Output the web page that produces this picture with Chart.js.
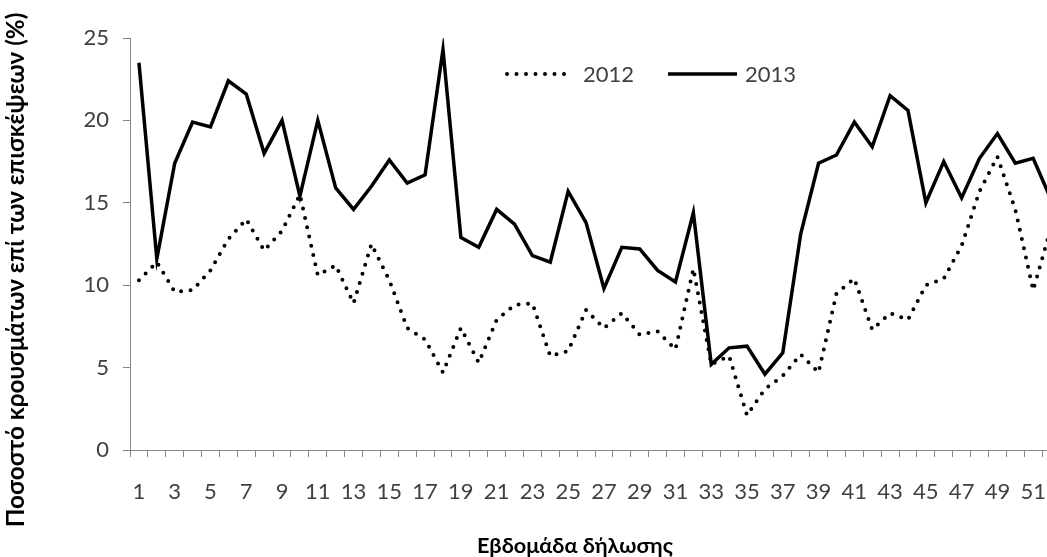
<!DOCTYPE html>
<html>
<head>
<meta charset="utf-8">
<script src="https://cdn.jsdelivr.net/npm/chart.js@4"></script>
<style>
html,body{margin:0;padding:0;background:#fff;overflow:hidden}
#wrap{width:1047px;height:557px;overflow:hidden;position:relative;background:#fff}
canvas{display:block}
</style>
</head>
<body>
<div id="wrap"><canvas id="c" width="1060" height="557"></canvas></div>
<script>
const weeks = ['1','2','3','4','5','6','7','8','9','10','11','12','13','14','15','16','17','18','19','20','21','22','23','24','25','26','27','28','29','30','31','32','33','34','35','36','37','38','39','40','41','42','43','44','45','46','47','48','49','50','51','52'];
const shownWeekLabels = ['1','3','5','7','9','11','13','15','17','19','21','23','25','27','29','31','33','35','37','39','41','43','45','47','49','51'];
const yTicks = [0,5,10,15,20,25];
const seriesNames = ['2012','2013'];
const series2012 = [10.3,11.4,9.6,9.7,10.9,12.8,14.0,12.1,13.3,15.5,10.6,11.2,8.9,12.5,10.3,7.4,6.7,4.7,7.4,5.3,7.9,8.8,8.9,5.7,6.0,8.5,7.4,8.3,7.0,7.2,6.1,11.0,5.2,5.7,2.1,3.7,4.5,5.8,4.7,9.5,10.4,7.3,8.3,7.9,10.0,10.4,12.4,15.7,17.8,14.6,9.7,13.5];
const series2013 = [23.5,11.6,17.4,19.9,19.6,22.4,21.6,18.0,20.0,15.4,20.0,15.9,14.6,16.0,17.6,16.2,16.7,24.3,12.9,12.3,14.6,13.7,11.8,11.4,15.7,13.8,9.8,12.3,12.2,10.9,10.2,14.4,5.2,6.2,6.3,4.6,5.9,13.1,17.4,17.9,19.9,18.4,21.5,20.6,15.0,17.5,15.3,17.7,19.2,17.4,17.7,15.2];
const yTitle = 'Ποσοστό κρουσμάτων επί των επισκέψεων (%)';
const xTitle = 'Εβδομάδα δήλωσης';

const FONT = "Lato, 'Open Sans', sans-serif";
const TXT = '#404040';
const AXIS = '#868686';

function fitFont(ctx, text, target, base, weight){
  ctx.font = `${weight} ${base}px ${FONT}`;
  const w = ctx.measureText(text).width;
  return base * target / w;
}

const overlay = {
  id: 'overlay',
  afterDraw(chart){
    const ctx = chart.ctx;
    ctx.save();
    const legendY = 74;
    const slots = [{x0:507,x1:570,tx:583},{x0:668,x1:737,tx:745}];
    chart.data.datasets.forEach((ds,i)=>{
      const s = slots[i];
      ctx.beginPath();
      ctx.strokeStyle = ds.borderColor;
      ctx.lineWidth = ds.borderWidth;
      ctx.lineCap = ds.borderCapStyle || 'butt';
      ctx.setLineDash(ds.borderDash || []);
      ctx.moveTo(s.x0, legendY);
      ctx.lineTo(s.x1 + 0.01, legendY);
      ctx.stroke();
      ctx.setLineDash([]);
      ctx.fillStyle = TXT;
      ctx.font = `22px ${FONT}`;
      ctx.textAlign = 'left';
      ctx.textBaseline = 'middle';
      ctx.fillText(ds.label, s.tx, legendY + 1);
    });
    ctx.fillStyle = '#000';
    ctx.textAlign = 'center';
    ctx.textBaseline = 'middle';
    const fx = fitFont(ctx, xTitle, 196, 20, 'bold');
    ctx.font = `bold ${fx}px ${FONT}`;
    ctx.fillText(xTitle, 575, 546);
    const fy = fitFont(ctx, yTitle, 515, 20, 'bold');
    ctx.font = `bold ${fy}px ${FONT}`;
    ctx.translate(16, 270);
    ctx.rotate(-Math.PI/2);
    ctx.fillText(yTitle, 0, 0);
    ctx.restore();
  }
};

new Chart(document.getElementById('c'), {
  type: 'line',
  data: {
    labels: weeks,
    datasets: [
      {label: seriesNames[0], data: series2012, borderColor: '#000', borderWidth: 4, borderDash: [0, 9.5], borderCapStyle: 'round', pointRadius: 0, tension: 0, fill: false},
      {label: seriesNames[1], data: series2013, borderColor: '#000', borderWidth: 3.5, borderCapStyle: 'butt', borderJoinStyle: 'miter', pointRadius: 0, tension: 0, fill: false}
    ]
  },
  options: {
    responsive: false,
    animation: false,
    events: [],
    layout: {padding: {top: 38, left: 0, right: 0, bottom: 0}},
    plugins: {legend: {display: false}, tooltip: {enabled: false}},
    scales: {
      x: {
        type: 'category',
        offset: true,
        grid: {offset: true, drawOnChartArea: false, drawTicks: true, tickLength: 7, color: AXIS, lineWidth: 1},
        border: {color: AXIS, width: 1},
        ticks: {
          autoSkip: false, maxRotation: 0, minRotation: 0, padding: 22, color: TXT,
          font: {family: FONT, size: 22},
          callback(v){ const l = this.getLabelForValue(v); return shownWeekLabels.includes(l) ? l : ''; }
        },
        afterFit(s){ s.height = 107; s.paddingLeft = 0; s.paddingRight = 0; }
      },
      y: {
        min: 0, max: 25,
        afterBuildTicks(s){ s.ticks = yTicks.map(v => ({value: v})); },
        grid: {drawOnChartArea: false, tickLength: 7, color: AXIS},
        border: {color: AXIS, width: 1},
        ticks: {padding: 14, color: TXT, font: {family: FONT, size: 22}},
        afterFit(s){ s.width = 130; }
      }
    }
  },
  plugins: [overlay]
});
</script>
</body>
</html>
